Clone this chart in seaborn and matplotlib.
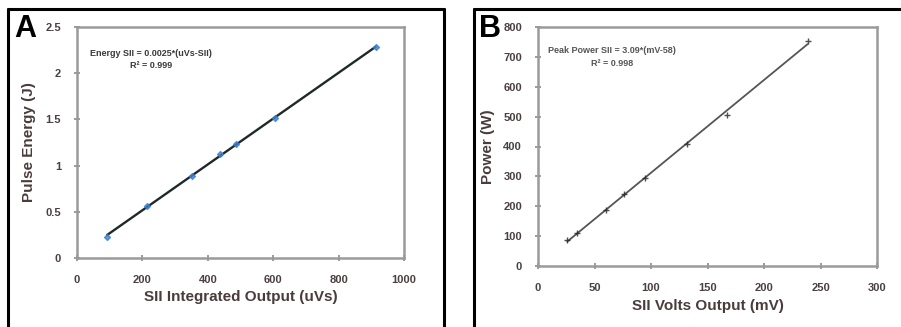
import numpy as np
import pandas as pd
import matplotlib
matplotlib.use("Agg")
import matplotlib.pyplot as plt
from matplotlib.lines import Line2D
import seaborn as sns

# Panel A data
a_x = [92, 214, 351, 437, 486, 606, 913]
a_y = [0.23, 0.56, 0.89, 1.13, 1.23, 1.51, 2.28]
a_xticks = [0, 200, 400, 600, 800, 1000]
a_yticks = [0, 0.5, 1, 1.5, 2, 2.5]
a_yticklabels = ["0", "0.5", "1", "1.5", "2", "2.5"]

# Panel B data
b_x = [26, 34.5, 60, 76, 95, 132, 167, 238.6]
b_y = [86, 111, 186, 240, 296, 409, 506, 753]
b_xticks = [0, 50, 100, 150, 200, 250, 300]
b_yticks = [0, 100, 200, 300, 400, 500, 600, 700, 800]

sns.set_theme(style="white")
plt.rcParams['font.family'] = ['Liberation Sans', 'DejaVu Sans']

fig = plt.figure(figsize=(9.01, 3.27), dpi=100)
W, H = 901, 327

def fr(px, py, pw, ph):
    return [px / W, 1 - (py + ph) / H, pw / W, ph / H]

# panel boxes
for (x0, x1) in [(8, 444), (474, 905)]:
    fig.add_artist(Line2D([x0 / W, x0 / W], [0, 1 - 9 / H], color="black", lw=2.2, transform=fig.transFigure))
    fig.add_artist(Line2D([x0 / W, x1 / W], [1 - 9 / H, 1 - 9 / H], color="black", lw=2.2, transform=fig.transFigure))
    fig.add_artist(Line2D([x1 / W, x1 / W], [0, 1 - 9 / H], color="black", lw=2.2, transform=fig.transFigure))

axA = fig.add_axes(fr(77, 27, 327, 231))
axB = fig.add_axes(fr(538, 27, 339, 239))

spine_c = "#9a9a9a"
tick_c = "#4a4040"
lab_c = "#4a3c3c"

def style(ax):
    for s in ax.spines.values():
        s.set_color(spine_c)
        s.set_linewidth(1.8)
    ax.tick_params(axis="both", which="both", bottom=True, left=True, direction="inout",
                   length=5, width=1.4, color=spine_c, labelsize=8, labelcolor=tick_c)
    ax.tick_params(axis="x", pad=10)
    ax.tick_params(axis="y", pad=9)
    for lab in ax.get_xticklabels() + ax.get_yticklabels():
        lab.set_fontweight("bold")

dfA = pd.DataFrame({"x": a_x, "y": a_y})
sns.regplot(data=dfA, x="x", y="y", ax=axA, ci=None, marker="D",
            scatter_kws=dict(s=9, color="#3a7fd0", zorder=3),
            line_kws=dict(color="#1e2a2a", lw=1.7, zorder=2))
axA.set_xlim(0, 1000)
axA.set_ylim(0, 2.5)
axA.set_xticks(a_xticks)
axA.set_yticks(a_yticks)
axA.set_yticklabels(a_yticklabels)
axA.set_xlabel("SII Integrated Output (uVs)", fontsize=11, fontweight="bold", color=lab_c, labelpad=3)
axA.set_ylabel("Pulse Energy (J)", fontsize=11, fontweight="bold", color=lab_c, labelpad=7)
style(axA)
axA.text(0.04, 0.905, "Energy SII = 0.0025*(uVs-SII)\nR² = 0.999", transform=axA.transAxes,
         fontsize=6.5, fontweight="bold", color="#3a3a3a", ha="left", va="top",
         multialignment="center", linespacing=1.5)

dfB = pd.DataFrame({"x": b_x, "y": b_y})
sns.regplot(data=dfB, x="x", y="y", ax=axB, ci=None, marker="+",
            scatter_kws=dict(s=22, color="#222222", linewidths=1.0, zorder=3),
            line_kws=dict(color="#555555", lw=1.3, zorder=2))
axB.set_xlim(0, 300)
axB.set_ylim(0, 800)
axB.set_xticks(b_xticks)
axB.set_yticks(b_yticks)
axB.set_xlabel("SII Volts Output (mV)", fontsize=11, fontweight="bold", color=lab_c, labelpad=4)
axB.set_ylabel("Power (W)", fontsize=11, fontweight="bold", color=lab_c, labelpad=6)
style(axB)
axB.text(0.03, 0.92, "Peak Power SII = 3.09*(mV-58)\nR² = 0.998", transform=axB.transAxes,
         fontsize=6.5, fontweight="bold", color="#555555", ha="left", va="top",
         multialignment="center", linespacing=1.5)

fig.text(14 / W, 1 - 37 / H, "A", fontsize=22, fontweight="bold", color="black", ha="left", va="baseline")
fig.text(479 / W, 1 - 37 / H, "B", fontsize=22, fontweight="bold", color="black", ha="left", va="baseline")

fig.savefig("out.png", dpi=100)
